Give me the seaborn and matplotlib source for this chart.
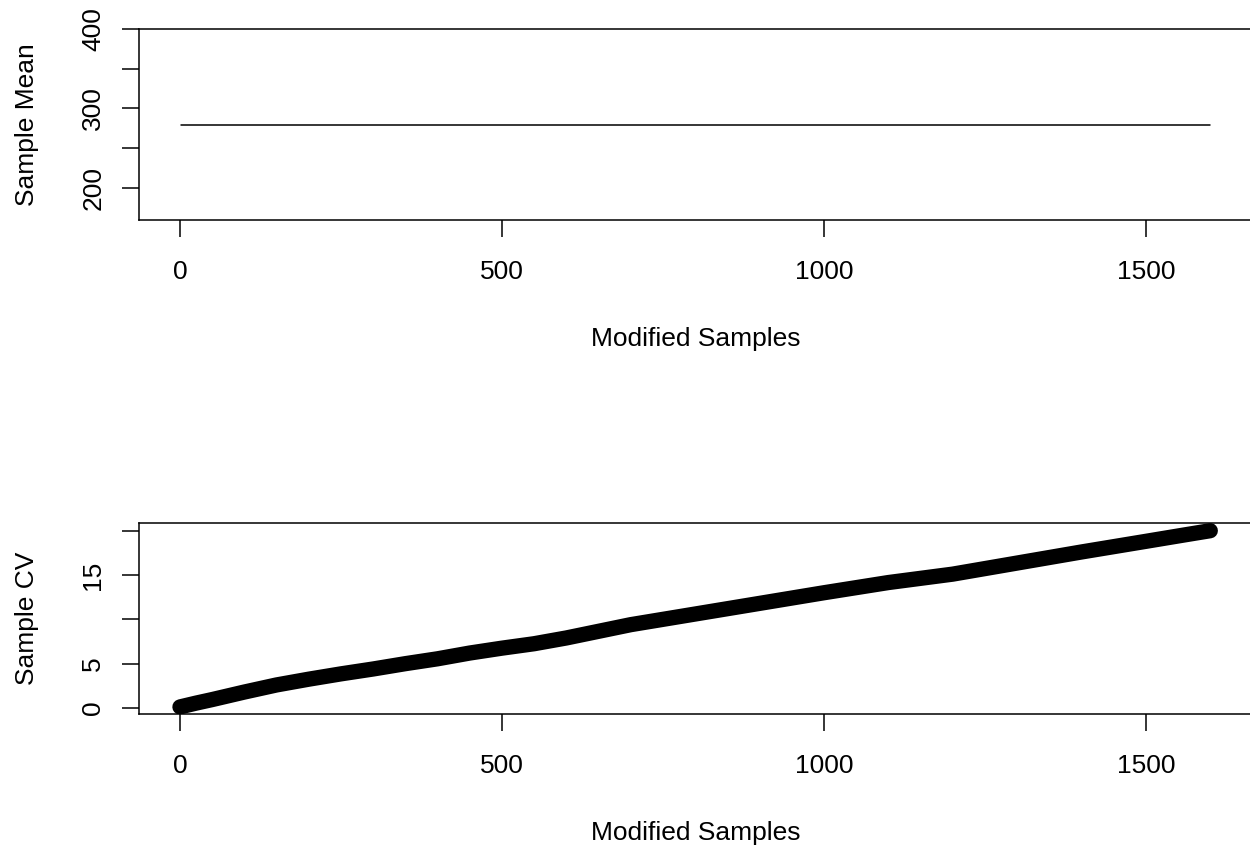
import matplotlib
matplotlib.use("Agg")
import matplotlib.pyplot as plt
import seaborn as sns

# Values
mean_samples = [1, 1600]
mean_values = [279.2, 279.2]

cv_samples = [0, 25, 50, 100, 150, 200, 250, 300, 350, 400, 450, 500, 550, 600,
              700, 800, 900, 1000, 1100, 1200, 1300, 1400, 1500, 1558, 1600]
cv_values = [0.12, 0.55, 0.95, 1.8, 2.6, 3.25, 3.85, 4.4, 5.0, 5.55, 6.2, 6.75, 7.25, 7.9,
             9.4, 10.6, 11.8, 13.0, 14.15, 15.1, 16.35, 17.6, 18.8, 19.5, 20.0]

x_ticks = [0, 500, 1000, 1500]
mean_ticks = [200, 250, 300, 350, 400]
mean_ticklabels = ["200", "", "300", "", "400"]
cv_ticks = [0, 5, 10, 15, 20]
cv_ticklabels = ["0", "5", "", "15", ""]

sns.set_style("ticks")
plt.rcParams['font.family'] = ['Liberation Sans', 'DejaVu Sans']
plt.rcParams['text.color'] = 'black'
plt.rcParams['axes.labelcolor'] = 'black'

fig = plt.figure(figsize=(12.5, 8.46), dpi=100)
ax1 = fig.add_axes([0.1114, 0.7400, 0.8898, 0.2254])
ax2 = fig.add_axes([0.1114, 0.1560, 0.8898, 0.2254])

sns.lineplot(x=mean_samples, y=mean_values, ax=ax1, color='black', linewidth=1.1)
sns.lineplot(x=cv_samples, y=cv_values, ax=ax2, color='black', linewidth=11,
             solid_capstyle='round', solid_joinstyle='round')

for ax, yticks, ylabels, ylim, ylab in [
        (ax1, mean_ticks, mean_ticklabels, (159.2, 400), "Sample Mean"),
        (ax2, cv_ticks, cv_ticklabels, (-0.68, 20.83), "Sample CV")]:
    ax.set_xlim(-63.2, 1664)
    ax.set_ylim(*ylim)
    ax.set_xticks(x_ticks)
    ax.set_xticklabels([str(t) for t in x_ticks])
    ax.set_yticks(yticks)
    ax.set_yticklabels(ylabels, rotation=90, va='center')
    ax.tick_params(axis='both', length=12.2, width=1.1, color='black',
                   labelsize=19, labelcolor='black')
    ax.tick_params(axis='x', pad=16.8)
    ax.tick_params(axis='y', pad=12.3)
    for s in ax.spines.values():
        s.set_linewidth(1.1)
        s.set_color('black')
    ax.set_xlabel("Modified Samples", fontsize=19, color='black')
    ax.set_ylabel(ylab, fontsize=19, color='black')
    ax.xaxis.set_label_coords(0.5, -0.5615)
    ax.yaxis.set_label_coords(-0.090, 0.5)
    ax.set_facecolor('white')

fig.savefig("out.png", dpi=100, facecolor='white')
